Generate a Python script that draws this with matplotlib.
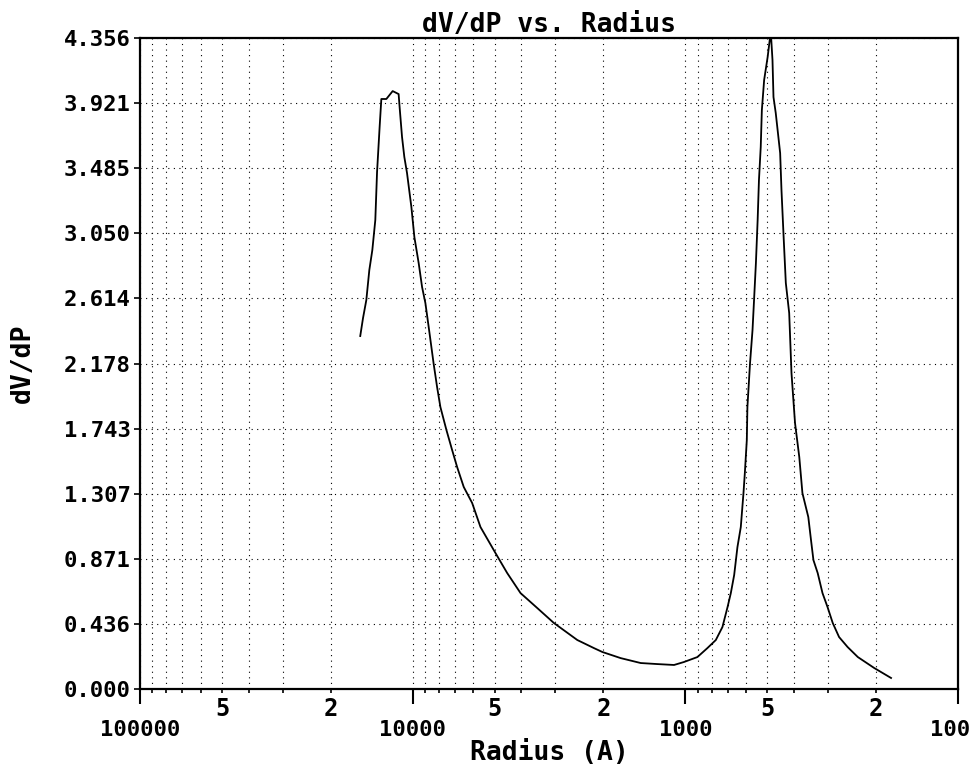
import numpy as np
import matplotlib
matplotlib.use("Agg")
import matplotlib.pyplot as plt
import matplotlib.transforms as mtransforms
from matplotlib.ticker import FixedLocator, FuncFormatter

# radius (A), left to right on the reversed log axis
radius = [15570, 15210, 14790, 14420, 14060, 13710, 13510, 13220, 13030, 12490,
          11840, 11260, 11160, 10940, 10730, 10490, 10110, 9857, 9506, 9237,
          8983, 8735, 8375, 8137, 7913, 7520, 7166, 6869, 6497, 6052,
          5641, 4970, 4501, 4022, 3492, 3035, 2490, 2164, 2016, 1727,
          1458, 1266, 1100, 1011, 903, 830, 773, 731, 700, 681,
          662, 644, 626, 612, 605, 595, 592, 579, 567, 559,
          551, 543, 537, 529, 524, 514, 499, 486, 479, 475,
          466, 449, 444, 436, 428, 416, 408, 396, 382, 372,
          354, 346, 339, 327, 314, 301, 288, 273, 254, 233,
          203, 176]
dvdp = [2.362, 2.482, 2.603, 2.804, 2.937, 3.138, 3.459, 3.760, 3.948, 3.948,
        4.001, 3.981, 3.888, 3.694, 3.560, 3.453, 3.225, 3.024, 2.850, 2.690,
        2.583, 2.422, 2.175, 2.021, 1.887, 1.733, 1.599, 1.485, 1.352, 1.245,
        1.084, 0.910, 0.776, 0.642, 0.542, 0.442, 0.328, 0.274, 0.248, 0.207,
        0.174, 0.167, 0.161, 0.181, 0.214, 0.274, 0.328, 0.415, 0.549, 0.642,
        0.763, 0.950, 1.084, 1.311, 1.445, 1.666, 1.887, 2.181, 2.402, 2.623,
        2.850, 3.138, 3.406, 3.627, 3.874, 4.075, 4.229, 4.400, 4.209, 3.961,
        3.854, 3.586, 3.339, 3.024, 2.717, 2.516, 2.114, 1.780, 1.552, 1.311,
        1.151, 0.997, 0.863, 0.776, 0.642, 0.549, 0.442, 0.348, 0.281, 0.214,
        0.141, 0.074]

y_ticks = [0.0, 0.4356, 0.8712, 1.3068, 1.7424, 2.178, 2.6136, 3.0492, 3.4848, 3.9204, 4.356]
y_labels = ["0.000", "0.436", "0.871", "1.307", "1.743", "2.178",
            "2.614", "3.050", "3.485", "3.921", "4.356"]
x_major = [100000, 10000, 1000, 100]
x_major_labels = ["100000", "10000", "1000", "100"]
x_minor = [m * d for d in [10000, 1000, 100] for m in range(2, 10)]

plt.rcParams["font.family"] = "DejaVu Sans Mono"
plt.rcParams["font.weight"] = "bold"

fig = plt.figure(figsize=(9.71, 7.65), dpi=100)
ax = fig.add_axes([0.1442, 0.0993, 0.8424, 0.851])

ax.plot(radius, dvdp, color="black", linewidth=1.3)

ax.set_xscale("log")
ax.set_xlim(100000, 100)
ax.set_ylim(0, 4.356)

ax.xaxis.set_major_locator(FixedLocator(x_major))
ax.set_xticklabels(x_major_labels)
ax.xaxis.set_minor_locator(FixedLocator(x_minor))


def minor_fmt(v, pos):
    lead = int(round(v / 10 ** np.floor(np.log10(v) + 1e-9)))
    return str(lead) if lead in (2, 5) else ""


ax.xaxis.set_minor_formatter(FuncFormatter(minor_fmt))

ax.set_yticks(y_ticks)
ax.set_yticklabels(y_labels)

ax.tick_params(axis="x", which="major", direction="out", length=11, width=1.5,
               pad=11, labelsize=16)
ax.tick_params(axis="x", which="minor", direction="out", length=3, width=1.2,
               pad=3, labelsize=17)
ax.tick_params(axis="y", direction="out", length=4.5, width=1.2, pad=2, labelsize=16)

for lab in ax.get_xticklabels(which="both") + ax.get_yticklabels():
    lab.set_fontweight("bold")

# keep the right-most label inside the figure
last = ax.get_xticklabels()[-1]
last.set_transform(last.get_transform() + mtransforms.ScaledTranslation(-8 / 100, 0, fig.dpi_scale_trans))

ax.grid(True, which="both", axis="x", color="black", linestyle=(0, (1, 4)), linewidth=0.8)
ax.grid(True, which="major", axis="y", color="black", linestyle=(0, (1, 4)), linewidth=0.8)

for s in ax.spines.values():
    s.set_linewidth(1.6)
    s.set_color("black")

ax.set_title("dV/dP vs. Radius", fontsize=19, fontweight="bold", pad=3)
ax.set_xlabel("Radius (A)", fontsize=19, fontweight="bold", labelpad=0)
ax.set_ylabel("dV/dP", fontsize=19, fontweight="bold", labelpad=20)

fig.savefig("out.png", dpi=100)
